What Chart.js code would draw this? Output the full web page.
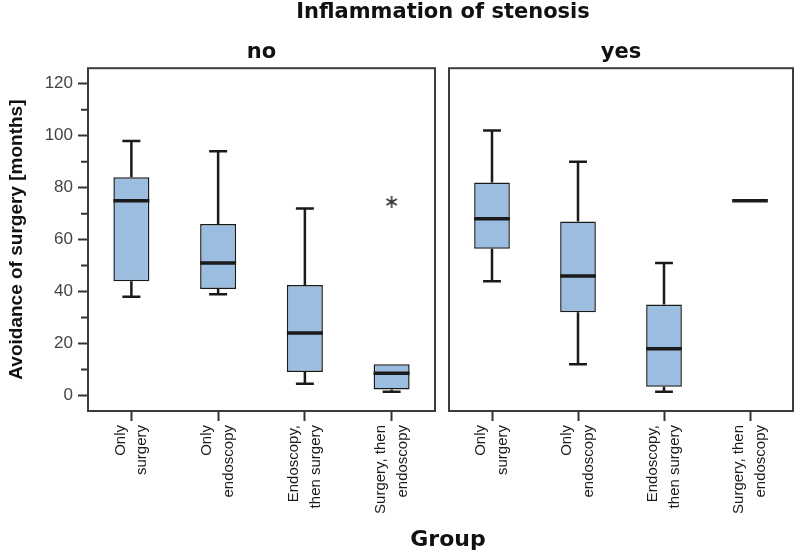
<!DOCTYPE html>
<html>
<head>
<meta charset="utf-8">
<script src="https://cdn.jsdelivr.net/npm/chart.js@4.4.1/dist/chart.umd.min.js"></script>
<style>
  body { margin: 0; background: #fff; }
  #wrap { position: relative; width: 800px; height: 555px; }
  #c1 { position: absolute; left: 0; top: 0; }
  #c2 { position: absolute; left: 442px; top: 0; }
  .ttl { position: absolute; font-family: "DejaVu Sans", sans-serif; font-weight: bold; color: #111; white-space: nowrap; }
</style>
</head>
<body>
<div id="wrap">
  <canvas id="c1" width="442" height="555"></canvas>
  <canvas id="c2" width="358" height="555"></canvas>
  <div class="ttl" id="mainTitle" style="left:0;width:886px;top:-1px;text-align:center;font-size:21px;">Inflammation of stenosis</div>
  <div class="ttl" id="xTitle" style="left:0;width:896px;top:526px;text-align:center;font-size:22px;">Group</div>
</div>
<script>
/* box plot: avoidance of surgery by group, split by inflammation */
const groups = [["Only", "surgery"], ["Only", "endoscopy"], ["Endoscopy,", "then surgery"], ["Surgery, then", "endoscopy"]];

// panel "no"
const noLow = [38, 39, 4.5, 1.4];
const noQ1 = [44, 41, 9, 2.3];
const noMed = [75, 51, 24, 8.5];
const noQ3 = [84, 66, 42.5, 12];
const noHigh = [98, 94, 72, 12];
const noOutliers = [null, null, null, 74.5];

// panel "yes"
const yesLow = [44, 12, 1.4, 75];
const yesQ1 = [56.5, 32, 3.3, 75];
const yesMed = [68, 46, 18, 75];
const yesQ3 = [82, 67, 35, 75];
const yesHigh = [102, 90, 51, 75];
const yesOutliers = [null, null, null, null];

const boxFill = "#9bbee0";
const ink = "#1a1a1a";

// six-armed asterisk used as the outlier point style
const star = document.createElement("canvas");
star.width = 16; star.height = 16;
(function () {
  const c = star.getContext("2d");
  c.strokeStyle = "#333";
  c.lineWidth = 1.6;
  c.beginPath();
  for (let k = 0; k < 3; k++) {
    const a = Math.PI / 2 + k * Math.PI / 3;
    c.moveTo(8 + 6 * Math.cos(a), 8 + 6 * Math.sin(a));
    c.lineTo(8 - 6 * Math.cos(a), 8 - 6 * Math.sin(a));
  }
  c.stroke();
})();

// whiskers, caps and medians on top of the floating bars
const boxPlugin = {
  id: "boxes",
  afterDatasetsDraw(chart, args, opts) {
    const ctx = chart.ctx;
    const y = chart.scales.y;
    const meta = chart.getDatasetMeta(0);
    ctx.save();
    ctx.strokeStyle = ink;
    ctx.lineCap = "butt";
    meta.data.forEach((bar, i) => {
      const p = bar.getProps(["x", "width"], true);
      const half = p.width / 2;
      const cap = p.width / 4;
      const yq1 = y.getPixelForValue(opts.q1[i]);
      const yq3 = y.getPixelForValue(opts.q3[i]);
      const ylo = y.getPixelForValue(opts.low[i]);
      const yhi = y.getPixelForValue(opts.high[i]);
      const ymed = y.getPixelForValue(opts.med[i]);
      ctx.lineWidth = 2.5;
      ctx.beginPath();
      if (opts.high[i] > opts.q3[i]) {
        ctx.moveTo(p.x, yq3); ctx.lineTo(p.x, yhi);
        ctx.moveTo(p.x - cap, yhi); ctx.lineTo(p.x + cap, yhi);
      }
      if (opts.low[i] < opts.q1[i]) {
        ctx.moveTo(p.x, yq1); ctx.lineTo(p.x, ylo);
        ctx.moveTo(p.x - cap, ylo); ctx.lineTo(p.x + cap, ylo);
      }
      ctx.stroke();
      ctx.lineWidth = 3.5;
      ctx.beginPath();
      ctx.moveTo(p.x - half, ymed); ctx.lineTo(p.x + half, ymed);
      ctx.stroke();
    });
    ctx.restore();
  }
};

// panel frame + short minor ticks
const framePlugin = {
  id: "frame",
  afterDraw(chart) {
    const ctx = chart.ctx;
    const a = chart.chartArea;
    ctx.save();
    ctx.strokeStyle = "#3c3c3c";
    ctx.lineWidth = 2;
    ctx.strokeRect(a.left, a.top, a.right - a.left, a.bottom - a.top);
    const y = chart.scales.y;
    if (y.options.display) {
      ctx.strokeStyle = "#333";
      ctx.beginPath();
      y.ticks.forEach(t => {
        if (t.value % 20 !== 0) {
          const py = y.getPixelForValue(t.value);
          ctx.moveTo(a.left - 7, py); ctx.lineTo(a.left, py);
        }
      });
      ctx.stroke();
    }
    ctx.restore();
  }
};

function makeConfig(title, low, q1, med, q3, high, outliers, showY) {
  return {
    type: "bar",
    data: {
      labels: groups,
      datasets: [
        {
          data: q1.map((v, i) => [v, q3[i]]),
          backgroundColor: boxFill,
          borderColor: ink,
          borderWidth: 1.5,
          borderSkipped: false,
          barPercentage: 0.415,
          categoryPercentage: 1,
          order: 2
        },
        {
          type: "line",
          data: outliers,
          showLine: false,
          pointStyle: star,
          pointRadius: 6,
          order: 1
        }
      ]
    },
    options: {
      responsive: false,
      animation: false,
      layout: { padding: { top: 36, left: showY ? 0 : 5, right: showY ? 6 : 5, bottom: 0 } },
      plugins: {
        legend: { display: false },
        tooltip: { enabled: false },
        title: {
          display: true,
          text: title,
          fullSize: false,
          color: "#111",
          font: { family: "DejaVu Sans", size: 21, weight: "bold", lineHeight: 1.2 },
          padding: { top: 4, bottom: 3 }
        },
        boxes: { low: low, q1: q1, med: med, q3: q3, high: high }
      },
      scales: {
        x: {
          type: "category",
          offset: true,
          grid: {
            display: true, drawOnChartArea: false, offset: false,
            tickLength: 10, tickWidth: 2, tickColor: "#333"
          },
          border: { display: false },
          ticks: {
            minRotation: 90, maxRotation: 90, autoSkip: false,
            padding: 4, labelOffset: -11,
            color: "#1a1a1a",
            font: { family: "Liberation Sans", size: 15, lineHeight: 1.45 }
          },
          afterFit(scale) {
            scale.height = 144;
            scale.paddingLeft = 0;
            scale.paddingRight = 0;
          }
        },
        y: {
          display: showY,
          min: -6, max: 126,
          grid: {
            display: true, drawOnChartArea: false,
            tickLength: 10, tickWidth: 2,
            tickColor: c => (c.tick && c.tick.value % 20 === 0 ? "#333" : "rgba(0,0,0,0)")
          },
          border: { display: false },
          ticks: {
            stepSize: 10, includeBounds: false, padding: 5,
            color: "#444",
            font: { family: "Liberation Sans", size: 17 },
            callback: v => (v % 20 === 0 ? v : "")
          },
          title: {
            display: true,
            text: "Avoidance of surgery [months]",
            color: "#111",
            font: { family: "Liberation Sans", size: 19, weight: "bold" },
            padding: { top: 5, bottom: 0 }
          },
          afterFit(scale) {
            if (showY) scale.width = 88;
            scale.paddingTop = 0;
            scale.paddingBottom = 0;
          }
        }
      }
    },
    plugins: [boxPlugin, framePlugin]
  };
}

var chartNo = new Chart(document.getElementById("c1"), makeConfig("no", noLow, noQ1, noMed, noQ3, noHigh, noOutliers, true));
var chartYes = new Chart(document.getElementById("c2"), makeConfig("yes", yesLow, yesQ1, yesMed, yesQ3, yesHigh, yesOutliers, false));
</script>
</body>
</html>
